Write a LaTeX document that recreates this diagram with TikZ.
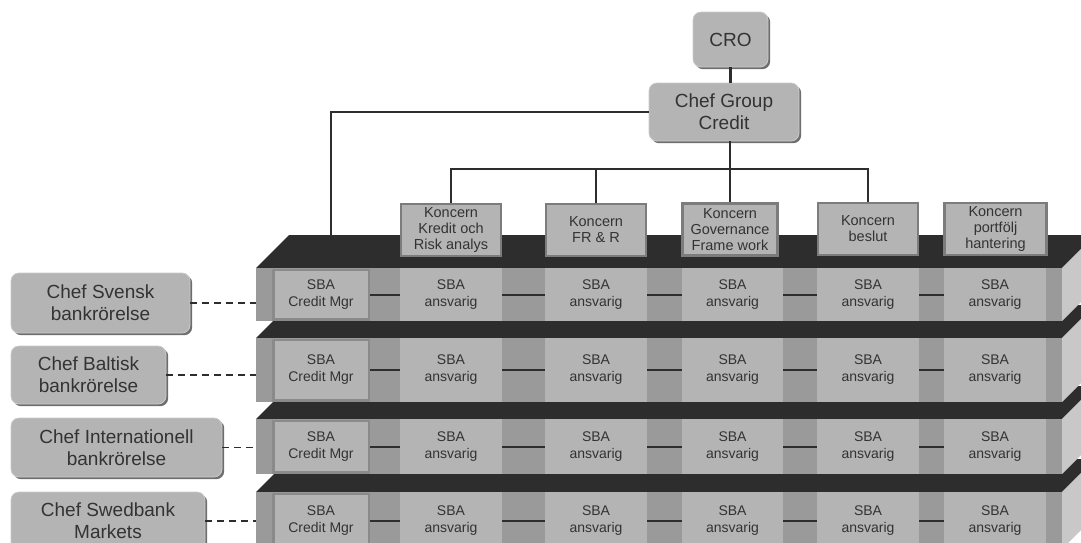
\documentclass[tikz,border=0pt]{standalone}
\usepackage{fontspec}
\setmainfont{Liberation Sans}
\usetikzlibrary{shadows}
\definecolor{topdark}{HTML}{2D2D2D}
\definecolor{gapgray}{HTML}{9A9A9A}
\definecolor{boxgray}{HTML}{B4B4B4}
\definecolor{sidegray}{HTML}{C8C8C8}
\definecolor{bordgray}{HTML}{7C7C7C}
\definecolor{cmborder}{HTML}{8A8A8A}
\definecolor{txtgray}{HTML}{333333}
\definecolor{shadowgray}{HTML}{6E6E6E}
\definecolor{hilite}{HTML}{CACACA}
\tikzset{
  rbox/.style={rounded corners=8pt, fill=boxgray, draw=hilite, line width=0.8pt,
    align=center, text=txtgray, inner sep=0pt,
    font=\fontsize{19}{22}\selectfont,
    drop shadow={shadow xshift=2.2pt, shadow yshift=-2.2pt, fill=shadowgray, opacity=1}},
  kbox/.style={fill=boxgray, draw=bordgray, line width=2.5pt, align=center,
    text=txtgray, inner sep=0pt, font=\fontsize{14.5}{16}\selectfont},
  cmbox/.style={fill=boxgray, draw=cmborder, line width=2.5pt, align=center,
    text=txtgray, inner sep=0pt, font=\fontsize{14}{17}\selectfont},
  abox/.style={fill=boxgray, align=center, text=txtgray, inner sep=0pt,
    font=\fontsize{14}{17}\selectfont},
  conn/.style={draw=topdark, line width=2.2pt},
  rowline/.style={draw=topdark, line width=2pt},
  dsh/.style={draw=topdark, line width=1.5pt, dash pattern=on 7pt off 5pt}
}
\begin{document}
\begin{tikzpicture}[x=1pt,y=-1pt]
\useasboundingbox (0,0) rectangle (1081,542);
\begin{scope}
\clip (0,0) rectangle (1081,542);
% slabs, bottom first
\foreach \T/\B/\n in {492/549/4, 419/474/3, 338/402/2, 268/321/1}{
  \pgfmathsetmacro\M{(\T+\B)/2}
  \pgfmathsetmacro\H{\B-\T}
  \pgfmathsetmacro\Hc{\B-\T-3.5}
  \fill[topdark] (256,\T) -- (289,\T-33) -- (1095,\T-33) -- (1062,\T) -- cycle;
  \fill[sidegray] (1062,\T) -- (1095,\T-33) -- (1095,\B-33) -- (1062,\B) -- cycle;
  \fill[gapgray] (256,\T) rectangle (1062,\B);
  \node[cmbox, minimum width=95.5pt, minimum height=\Hc pt] (cm\n) at (321,\M) {SBA\\Credit Mgr};
  \foreach \c/\x/\w in {1/451/102, 2/596/102, 3/732.5/101, 4/868/102, 5/995/102}{
    \node[abox, minimum width=\w pt, minimum height=\H pt] (a\n\c) at (\x,\M) {SBA\\ansvarig};
  }
  \draw[rowline] (cm\n.east) -- (a\n1.west)
                 (a\n1.east) -- (a\n2.west)
                 (a\n2.east) -- (a\n3.west)
                 (a\n3.east) -- (a\n4.west)
                 (a\n4.east) -- (a\n5.west);
}
\end{scope}

% top hierarchy
\node[rbox, minimum width=75pt, minimum height=55pt] (cro) at (730.5,39.5) {CRO};
\node[rbox, minimum width=150pt, minimum height=58pt] (cgc) at (724,112) {Chef Group\\Credit};

\node[kbox, minimum width=100pt, minimum height=52pt] (k1) at (451,230) {Koncern\\Kredit och\\Risk analys};
\node[kbox, minimum width=100pt, minimum height=52pt] (k2) at (596,230) {Koncern\\FR \& R};
\node[kbox, minimum width=95pt, minimum height=52pt] (k3) at (730,229.5) {Koncern\\Governance\\Frame work};
\node[kbox, minimum width=100pt, minimum height=52pt] (k4) at (868,229) {Koncern\\beslut};
\node[kbox, minimum width=102pt, minimum height=52pt] (k5) at (995.5,229) {Koncern\\portfölj\\hantering};

\coordinate (bus) at (730,169);
\coordinate (ltop) at (331,236);
\draw[conn] (cro.south) -- (cro.south |- cgc.north);
\draw[conn] (cgc.south -| bus) -- (bus);
\draw[conn] (k1.north) -- (k1.north |- bus) -- (k4.north |- bus) -- (k4.north);
\draw[conn] (k2.north) -- (k2.north |- bus);
\draw[conn] (k3.north) -- (k3.north |- bus);
\draw[conn] (cgc.west) -| (ltop);

% left chefs
\node[rbox, minimum width=179pt, minimum height=60pt] (ch1) at (100.5,303) {Chef Svensk\\bankrörelse};
\node[rbox, minimum width=155pt, minimum height=58pt] (ch2) at (88.5,375) {Chef Baltisk\\bankrörelse};
\node[rbox, minimum width=211pt, minimum height=59pt] (ch3) at (116.5,447.5) {Chef Internationell\\bankrörelse};
\node[rbox, minimum width=194pt, minimum height=58pt] (ch4) at (108,521) {Chef Swedbank\\Markets};

\coordinate (slx) at (256,0);
\foreach \i in {1,2,3,4}{
  \draw[dsh] (ch\i.east) -- (ch\i.east -| slx);
}
\end{tikzpicture}
\end{document}
